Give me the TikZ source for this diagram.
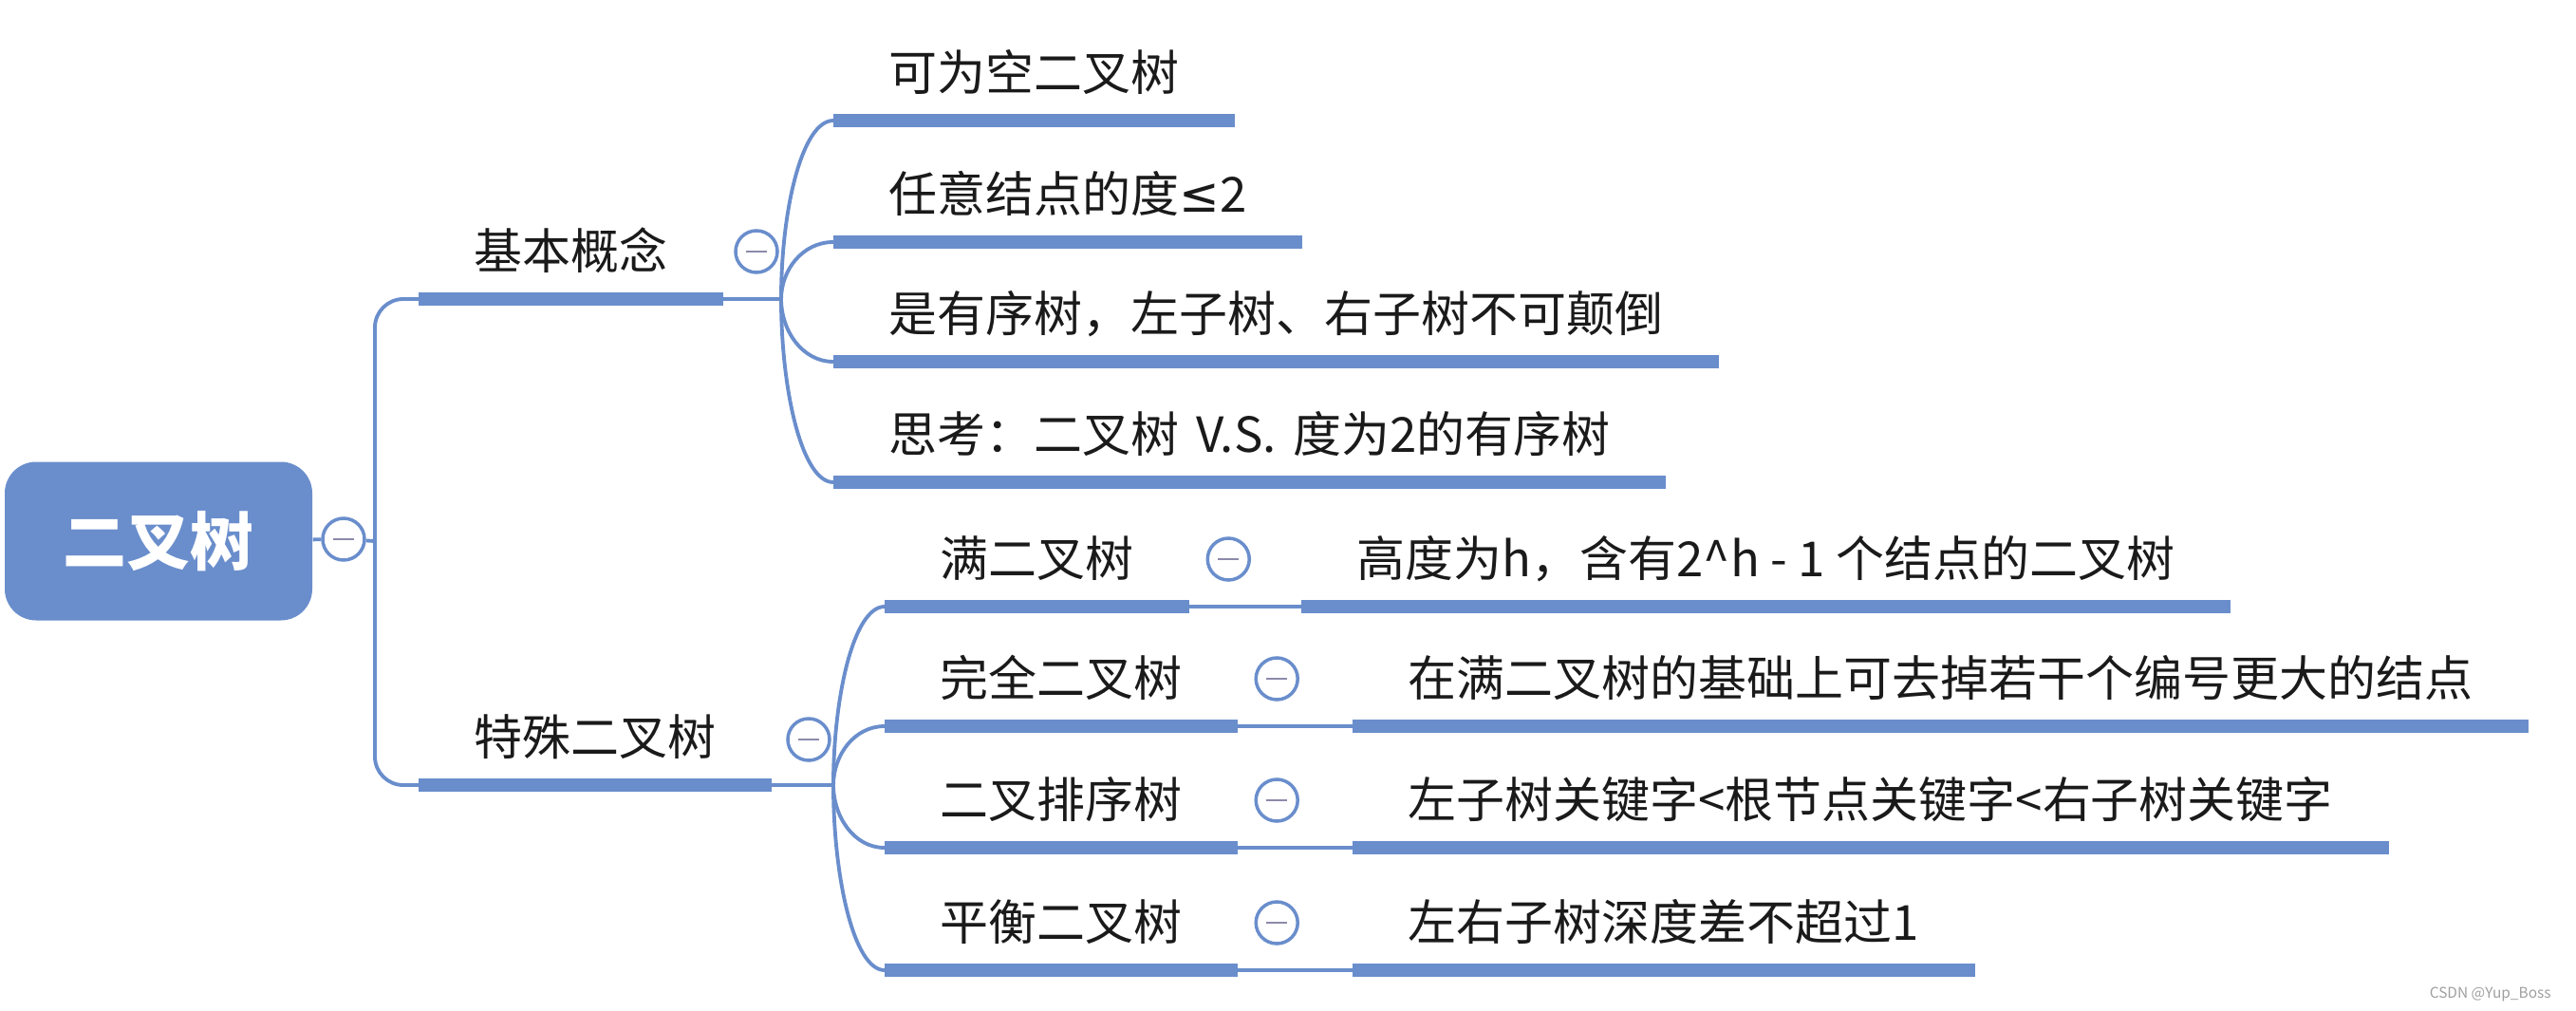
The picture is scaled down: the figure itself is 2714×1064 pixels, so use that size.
\documentclass[tikz,border=0pt]{standalone}
\usepackage{fontspec}
\setmainfont{Noto Sans CJK SC}
\newfontfamily\symfont{DejaVu Sans}
\usetikzlibrary{calc,positioning}
\definecolor{mapblue}{RGB}{106,142,204}
\definecolor{minusgray}{RGB}{140,138,170}
\definecolor{ink}{RGB}{26,26,26}

\begin{document}
\begin{tikzpicture}[x=0.1mm,y=-0.1mm,
  rootbox/.style={fill=mapblue, rounded corners=3.3mm, minimum width=32.4mm, minimum height=16.7mm,
    text=white, font=\bfseries\fontsize{19pt}{21pt}\selectfont},
  topic/.style={anchor=south west, inner xsep=5.8mm, inner ysep=0pt, text height=4.6mm, text depth=3.06mm,
    text=ink, font=\fontsize{14.5pt}{16pt}\selectfont},
  bar/.style={draw=mapblue, line width=4pt},
  link/.style={draw=mapblue, line width=1.1pt},
  fold/.style={circle, draw=mapblue, line width=1pt, fill=white, minimum size=4.4mm, inner sep=0pt,
    path picture={\draw[minusgray, line width=0.8pt]
      ([xshift=-1.1mm]path picture bounding box.center) -- ([xshift=1.1mm]path picture bounding box.center);}},
  branch/.style={to path={.. controls ($(\tikztostart)!0.5!(\tikztostart|-\tikztotarget)$)
    and ($(\tikztotarget)!0.6!(\tikztostart|-\tikztotarget)$) .. (\tikztotarget)}}
]
\useasboundingbox (0,0) rectangle (2714,1064);

% root
\node[rootbox] (root) at (167,570) {二叉树};
\node[fold] (f0) at (362,568) {};
\coordinate (j0) at (395,570);

% first level
\node[topic] (t1) at (441,315) {基本概念};
\node[fold] (f1) at (797,265) {};
\coordinate (j1) at (823,315);
\node[topic] (t2) at (441,827) {特殊二叉树};
\node[fold] (f2) at (852,779) {};
\coordinate (j2) at (878,827);

% basic concepts
\node[topic] (c1) at (878,127) {可为空二叉树};
\node[topic] (c2) at (878,255) {任意结点的度{\symfont ≤}2};
\node[topic] (c3) at (878,381) {是有序树，左子树、右子树不可颠倒};
\node[topic] (c4) at (878,508) {思考：二叉树\hspace{0.35em}V.S.\hspace{0.35em}度为2的有序树};

% special trees
\node[topic] (d1) at (932,639) {满二叉树};
\node[topic] (d2) at (932,765) {完全二叉树};
\node[topic] (d3) at (932,893) {二叉排序树};
\node[topic] (d4) at (932,1022) {平衡二叉树};
\node[fold] (g1) at ($(d1.south east)+(41,-50)$) {};
\node[fold] (g2) at ($(d2.south east)+(41,-50)$) {};
\node[fold] (g3) at ($(d3.south east)+(41,-50)$) {};
\node[fold] (g4) at ($(d4.south east)+(41,-50)$) {};
\node[topic] (e1) at ($(d1.south east)+(118,0)$) {高度为h，含有2\textasciicircum h - 1 个结点的二叉树};
\node[topic] (e2) at ($(d2.south east)+(121,0)$) {在满二叉树的基础上可去掉若干个编号更大的结点};
\node[topic] (e3) at ($(d3.south east)+(121,0)$) {左子树关键字<根节点关键字<右子树关键字};
\node[topic] (e4) at ($(d4.south east)+(121,0)$) {左右子树深度差不超过1};

% bars
\foreach \n in {t1,t2,c1,c2,c3,c4,d1,d2,d3,d4,e1,e2,e3,e4}
  \draw[bar] (\n.south west) -- (\n.south east);

% connectors
\draw[link] (root) -- (f0);
\draw[link] (f0) -- (j0);
\draw[link, rounded corners=3mm] (t1.south west) -| (j0) |- (t2.south west);
\draw[link] (t1.south east) -- (j1);
\draw[link] (t2.south east) -- (j2);
\foreach \c in {c1,c2,c3,c4}
  \draw[link] (j1) to[branch] (\c.south west);
\foreach \d in {d1,d2,d3,d4}
  \draw[link] (j2) to[branch] (\d.south west);
\draw[link] (d1.south east) -- (e1.south west);
\draw[link] (d2.south east) -- (e2.south west);
\draw[link] (d3.south east) -- (e3.south west);
\draw[link] (d4.south east) -- (e4.south west);

\node[anchor=east, text=gray!75, font=\fontsize{4.4pt}{5pt}\selectfont] (mark) at (2700,1047) {CSDN @Yup\_Boss};
\end{tikzpicture}
\end{document}
